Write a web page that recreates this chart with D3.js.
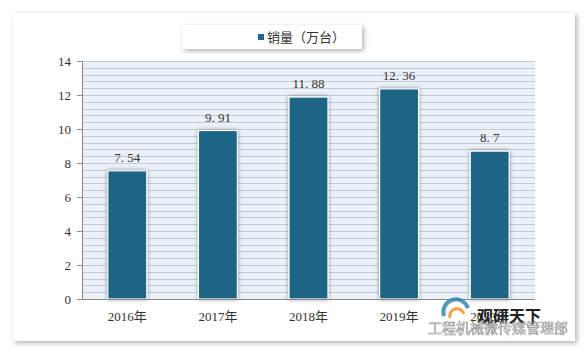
<!DOCTYPE html>
<html>
<head>
<meta charset="utf-8">
<script src="https://cdn.jsdelivr.net/npm/d3@7"></script>
<style>
  body { margin: 0; background: #fff; }
  svg { display: block; }
</style>
</head>
<body>
<div id="chart"></div>
<script>
// data
var years = ["2016年", "2017年", "2018年", "2019年", "2020年"];
var sales = [7.54, 9.91, 11.88, 12.36, 8.7];
var salesLabels = ["7.54", "9.91", "11.88", "12.36", "8.7"];
var yTicks = [0, 2, 4, 6, 8, 10, 12, 14];
var seriesName = "销量（万台）";

var W = 585, H = 350;
var margin = {top: 61, right: 50, bottom: 51, left: 82};
var width = W - margin.left - margin.right,
    height = H - margin.top - margin.bottom;

var svg = d3.select("#chart").append("svg")
  .attr("width", W).attr("height", H);

var defs = svg.append("defs");
var sh = defs.append("filter").attr("id", "shadow")
  .attr("x", "-10%").attr("y", "-10%").attr("width", "120%").attr("height", "130%");
sh.append("feDropShadow").attr("dx", 2).attr("dy", 2).attr("stdDeviation", 2.5)
  .attr("flood-color", "#000").attr("flood-opacity", 0.3);
var sh2 = defs.append("filter").attr("id", "barshadow")
  .attr("x", "-30%").attr("y", "-10%").attr("width", "160%").attr("height", "120%");
sh2.append("feDropShadow").attr("dx", 0).attr("dy", 0).attr("stdDeviation", 2)
  .attr("flood-color", "#000").attr("flood-opacity", 0.4);

// outer frame
svg.append("rect")
  .attr("x", 13).attr("y", 13).attr("width", 562).attr("height", 328)
  .attr("fill", "#fff").attr("filter", "url(#shadow)");

// legend box
svg.append("rect")
  .attr("x", 182).attr("y", 25).attr("width", 180).attr("height", 24)
  .attr("fill", "#fff").attr("filter", "url(#shadow)");
svg.append("rect")
  .attr("x", 258).attr("y", 34).attr("width", 6).attr("height", 6)
  .attr("fill", "#1b6587");
svg.append("text")
  .attr("x", 267).attr("y", 42)
  .style("font-family", "'Noto Sans CJK SC', sans-serif")
  .style("font-size", "13px").attr("fill", "#333")
  .text(seriesName);

var g = svg.append("g")
  .attr("transform", "translate(" + margin.left + "," + margin.top + ")");

var x = d3.scaleBand().domain(years).range([0, width]).paddingInner(0.57).paddingOuter(0.285);
var y = d3.scaleLinear().domain([0, 14]).range([height, 0]);

g.append("rect")
  .attr("width", width).attr("height", height)
  .attr("fill", "#ebf1f8");

// horizontal grid lines every 0.4
var grid = d3.range(0, 14.01, 0.4);
g.selectAll(".grid").data(grid).enter().append("line")
  .attr("class", "grid")
  .attr("x1", 0).attr("x2", width)
  .attr("y1", function(d) { return Math.round(y(d)) + 0.5; })
  .attr("y2", function(d) { return Math.round(y(d)) + 0.5; })
  .attr("stroke", "#c4cad2").attr("stroke-width", 1.2);

g.selectAll(".bar").data(sales).enter().append("rect")
  .attr("class", "bar")
  .attr("x", function(d, i) { return x(years[i]); })
  .attr("y", function(d) { return y(d); })
  .attr("width", x.bandwidth())
  .attr("height", function(d) { return height - y(d); })
  .attr("fill", "#1b6587")
  .attr("stroke", "#fff").attr("stroke-width", 1.2)
  .attr("filter", "url(#barshadow)");

g.selectAll(".val").data(sales).enter().append("text")
  .attr("class", "val")
  .attr("x", function(d, i) { return x(years[i]) + x.bandwidth() / 2; })
  .attr("y", function(d) { return y(d) - 9; })
  .attr("text-anchor", "middle")
  .style("font-family", "'Liberation Serif', serif")
  .style("font-size", "13px")
  .attr("fill", "#333")
  .text(function(d, i) { return salesLabels[i].replace(".", ". "); });

var yAxis = g.append("g")
  .call(d3.axisLeft(y).tickValues(yTicks).tickSize(5).tickPadding(6));
yAxis.select(".domain").attr("stroke", "#888").attr("d", "M-5,0.5H0.5V" + (height + 0.5));
yAxis.selectAll(".tick line").attr("stroke", "#888");
yAxis.selectAll("text")
  .style("font-family", "'Liberation Serif', serif")
  .style("font-size", "13px").attr("fill", "#333");

var xAxis = g.append("g")
  .attr("transform", "translate(0," + height + ")")
  .call(d3.axisBottom(x).tickSize(0).tickPadding(13));
xAxis.select(".domain").attr("stroke", "#888").attr("d", "M0,0.5H" + width);
xAxis.selectAll("text")
  .style("font-family", "'Liberation Serif', 'Noto Sans CJK SC', serif")
  .style("font-size", "13px").attr("fill", "#333");

// watermark (logo + text), drawn over the last axis label as in the picture
var wm = svg.append("g");
wm.append("path")
  .attr("d", "M444,316 A12,12 0 0 1 468,308")
  .attr("fill", "none").attr("stroke", "#2a7fa8").attr("stroke-width", 4).attr("opacity", 0.8);
wm.append("path")
  .attr("d", "M450,318 A7,7 0 0 1 464,314")
  .attr("fill", "none").attr("stroke", "#f08a1c").attr("stroke-width", 3).attr("opacity", 0.8);
wm.append("text")
  .attr("x", 477).attr("y", 322)
  .style("font-family", "'Noto Sans CJK SC', sans-serif")
  .style("font-size", "16px").style("font-weight", "bold")
  .attr("fill", "#222").text("观研天下");
wm.append("text")
  .attr("x", 428).attr("y", 333)
  .style("font-family", "'Noto Sans CJK SC', sans-serif")
  .style("font-size", "14px")
  .attr("fill", "#fff").attr("stroke", "#777").attr("stroke-width", 0.6)
  .attr("opacity", 0.85)
  .text("工程机械微传媒管理部");
</script>
</body>
</html>
